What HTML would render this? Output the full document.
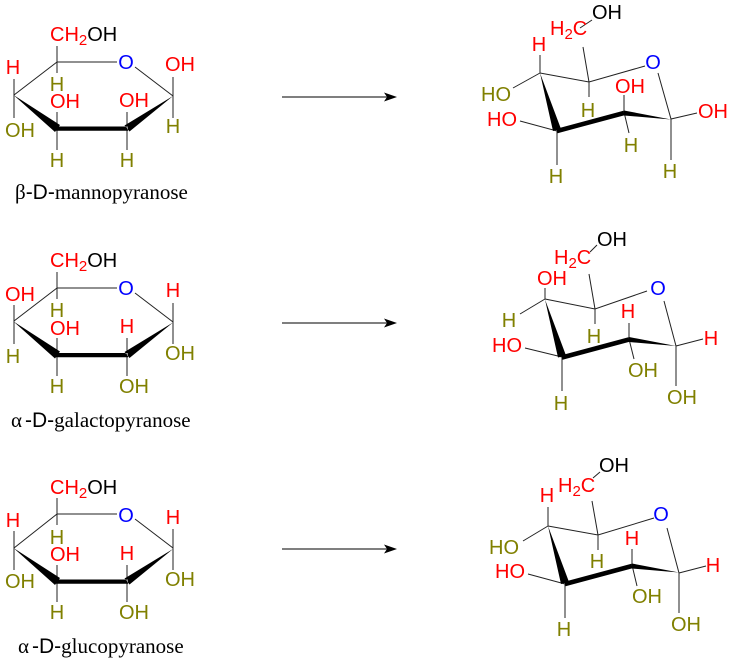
<!DOCTYPE html>
<html><head><meta charset="utf-8"><style>
html,body{margin:0;padding:0;background:#fff}
svg{display:block}
text{font-family:"Liberation Sans",sans-serif;font-size:20px}
.r{fill:#f00}.b{fill:#00f}.o{fill:#808000}.k{fill:#000}
text.m{text-anchor:middle}
.n{font-family:"Liberation Serif",serif;font-size:21px;fill:#000}
.s{font-family:"Liberation Sans",sans-serif;font-size:21px}
.bond{fill:none;stroke:#222;stroke-width:1}
.g{stroke:#555;stroke-width:1.4;fill:none}
</style></head><body>
<svg width="734" height="663" viewBox="0 0 734 663" xmlns="http://www.w3.org/2000/svg">

<!-- left 1 -->
<path class="bond" d="M57 46V73M57 62H117M57 62L14 95M135 67L173 96M173 77V118M14 79V118M57 112V150M127 112V150"/>
<path d="M13.500 95L60 125L55 132ZM56 126.500H128V130.800H56ZM173 96L124.500 125.500L129.500 131.500Z" fill="#000"/>
<text x="50" y="41" class="r">CH<tspan font-size="15" dy="4">2</tspan><tspan class="k" dy="-4">OH</tspan></text>
<text class="m b" x="126" y="69">O</text>
<text class="m r" x="13" y="74">H</text><text class="m r" x="180" y="71">OH</text>
<text class="m o" x="57" y="91">H</text><text class="m r" x="65" y="108">OH</text>
<text class="m r" x="134" y="107">OH</text><text class="m o" x="20" y="137">OH</text>
<text class="m o" x="173" y="133">H</text><text class="m o" x="57" y="167">H</text><text class="m o" x="127" y="167">H</text>
<text class="n" x="15" y="199">β<tspan class="s">-D-</tspan>mannopyranose</text>

<!-- left 2 -->
<path class="bond" d="M57 272V299M57 288H117M57 288L14 321M135 293L173 322M173 303V344M14 305V344M57 338V376M127 338V376"/>
<path transform="translate(0,226.500)" d="M13.500 95L60 125L55 132ZM56 126.500H128V130.800H56ZM173 96L124.500 125.500L129.500 131.500Z" fill="#000"/>
<text x="50" y="267" class="r">CH<tspan font-size="15" dy="4">2</tspan><tspan class="k" dy="-4">OH</tspan></text>
<text class="m b" x="126" y="295">O</text>
<text class="m r" x="20" y="301">OH</text><text class="m r" x="173" y="297">H</text>
<text class="m o" x="57" y="317">H</text><text class="m r" x="65" y="335">OH</text>
<text class="m r" x="127" y="333">H</text><text class="m o" x="13" y="363">H</text>
<text class="m o" x="180" y="360">OH</text><text class="m o" x="57" y="393">H</text><text class="m o" x="134" y="393">OH</text>
<text class="n" x="11" y="427">α<tspan class="s" dx="3">-D-</tspan>galactopyranose</text>

<!-- left 3 -->
<path class="bond" d="M57 498V525M57 514H117M57 514L14 548M135 519L173 548M173 529V570M14 531V570M57 565V602M127 565V602"/>
<path transform="translate(0,453)" d="M13.500 95L60 125L55 132ZM56 126.500H128V130.800H56ZM173 96L124.500 125.500L129.500 131.500Z" fill="#000"/>
<text x="50" y="494" class="r">CH<tspan font-size="15" dy="4">2</tspan><tspan class="k" dy="-4">OH</tspan></text>
<text class="m b" x="126" y="522">O</text>
<text class="m r" x="13" y="527">H</text><text class="m r" x="173" y="524">H</text>
<text class="m o" x="57" y="544">H</text><text class="m r" x="65" y="561">OH</text>
<text class="m r" x="127" y="560">H</text><text class="m o" x="20" y="588">OH</text>
<text class="m o" x="180" y="586">OH</text><text class="m o" x="57" y="619">H</text><text class="m o" x="134" y="619">OH</text>
<text class="n" x="18" y="653">α<tspan class="s" dx="3">-D-</tspan>glucopyranose</text>

<!-- arrows -->
<path class="g" d="M282 97H388M282 323H388M282 549H388"/>
<path d="M397 97L384 92.500L387 97L384 101.500Z" fill="#000"/>
<path d="M397 323L384 318.500L387 323L384 327.500Z" fill="#000"/>
<path d="M397 549L384 544.500L387 549L384 553.500Z" fill="#000"/>

<!-- right 1 -->
<path class="bond" d="M540 73L589 82L645 66M658 73L671 119L697 113M671 119V160M589 82L583 47M589 82V97M624 112V95M624 112L629 133M557 131V165M557 131L520 121M540 73V55M540 73L513 88M580 28L592 20"/>
<path d="M540 73L553 131L561 129ZM556.400 128.800L557.600 133.200L624.600 115.200L623.400 110.800ZM671 119.500L624 110.500V115.500Z" fill="#000"/>
<text class="k m" x="607" y="19">OH</text>
<text class="r" x="550" y="35">H<tspan font-size="15" dy="4">2</tspan><tspan dy="-4">C</tspan></text>
<text class="m b" x="653" y="69">O</text>
<text class="m r" x="539" y="51">H</text><text class="m o" x="496" y="101">HO</text>
<text class="m r" x="502" y="126">HO</text><text class="m o" x="588" y="117">H</text>
<text class="m r" x="630" y="93">OH</text><text class="m o" x="631" y="152">H</text>
<text class="m r" x="713" y="118">OH</text><text class="m o" x="670" y="178">H</text><text class="m o" x="556" y="183">H</text>

<!-- right 2 -->
<path class="bond" d="M545 299L595 309L647 291M664 301L676 346L703 339M676 346V386M595 309L589 274M595 309V324M629 339V323M629 339L634 359M562 357V391M562 357L525 348M545 299V288M545 299L520 314M590 252L597 245"/>
<path transform="translate(5,226.500)" d="M540 73L553 131L561 129ZM556.400 128.800L557.600 133.200L624.600 115.200L623.400 110.800ZM671 119.500L624 110.500V115.500Z" fill="#000"/>
<text class="k m" x="612" y="246">OH</text>
<text class="r" x="554" y="264">H<tspan font-size="15" dy="4">2</tspan><tspan dy="-4">C</tspan></text>
<text class="m b" x="658" y="295">O</text>
<text class="m r" x="552" y="285">OH</text><text class="m o" x="509" y="327">H</text>
<text class="m r" x="507" y="352">HO</text><text class="m o" x="594" y="343">H</text>
<text class="m r" x="628" y="318">H</text><text class="m o" x="643" y="377">OH</text>
<text class="m r" x="711" y="345">H</text><text class="m o" x="682" y="404">OH</text><text class="m o" x="561" y="410">H</text>

<!-- right 3 -->
<path class="bond" d="M548 526L598 535L654 518M667 528L679 573L706 566M679 573V613M598 535L592 501M598 535V550M632 565V549M632 565L637 586M565 584V618M565 584L528 574M548 526V507M548 526L523 541M593 478L600 472"/>
<path transform="translate(8,453)" d="M540 73L553 131L561 129ZM556.400 128.800L557.600 133.200L624.600 115.200L623.400 110.800ZM671 119.500L624 110.500V115.500Z" fill="#000"/>
<text class="k m" x="614" y="472">OH</text>
<text class="r" x="558" y="492">H<tspan font-size="15" dy="4">2</tspan><tspan dy="-4">C</tspan></text>
<text class="m b" x="661" y="521">O</text>
<text class="m r" x="547" y="502">H</text><text class="m o" x="504" y="554">HO</text>
<text class="m r" x="510" y="578">HO</text><text class="m o" x="597" y="568">H</text>
<text class="m r" x="632" y="545">H</text><text class="m o" x="647" y="603">OH</text>
<text class="m r" x="713" y="572">H</text><text class="m o" x="686" y="631">OH</text><text class="m o" x="564" y="636">H</text>
</svg>
</body></html>
